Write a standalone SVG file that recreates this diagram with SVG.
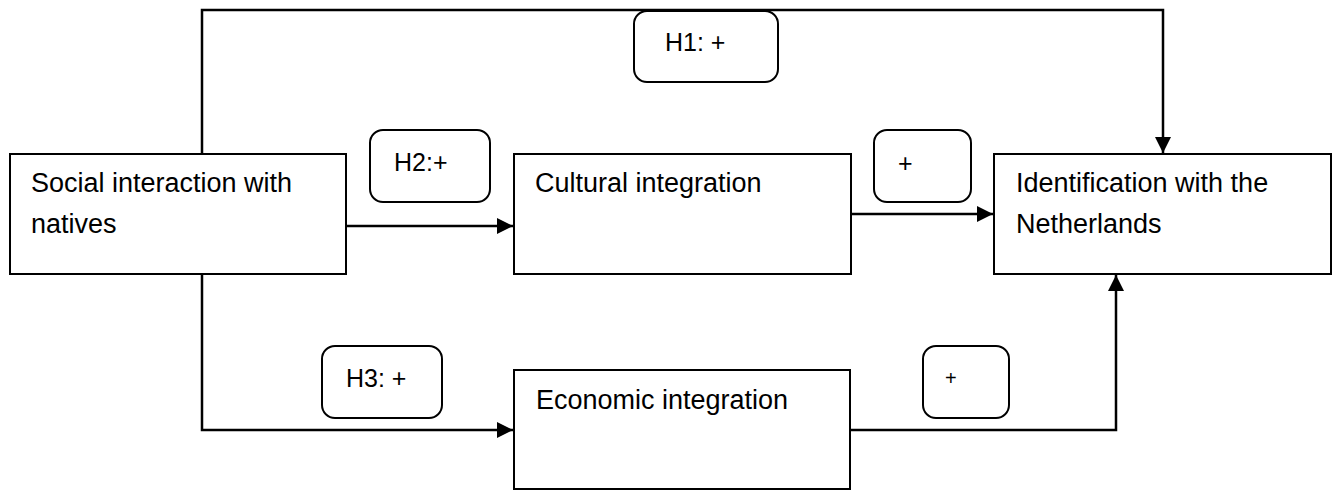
<svg xmlns="http://www.w3.org/2000/svg" width="1340" height="492" viewBox="0 0 1340 492">
<style>
.node{fill:#fff;stroke:#000;stroke-width:2}
.lab{fill:#fff;stroke:#000;stroke-width:2}
.t{font-family:"Liberation Sans",Arial,sans-serif;font-size:27px;fill:#000}
.l{font-family:"Liberation Sans",Arial,sans-serif;font-size:25px;fill:#000}
.s{font-family:"Liberation Sans",Arial,sans-serif;font-size:20px;fill:#000}
.c{fill:none;stroke:#000;stroke-width:2.5}
</style>
<defs>
<marker id="ah" markerUnits="userSpaceOnUse" markerWidth="16" markerHeight="16" viewBox="0 0 16 16" refX="16" refY="8" orient="auto">
<path d="M0,0 L16,8 L0,16 Z" fill="#000"/>
</marker>
</defs>
<rect width="1340" height="492" fill="#fff"/>
<g id="connectors">
<path class="c" d="M202,154 V10 H1163 V153" marker-end="url(#ah)"/>
<path class="c" d="M346,226 H513" marker-end="url(#ah)"/>
<path class="c" d="M851,214 H993" marker-end="url(#ah)"/>
<path class="c" d="M202,274 V430 H513" marker-end="url(#ah)"/>
<path class="c" d="M850,430 H1116 V275" marker-end="url(#ah)"/>
</g>
<g id="node-social">
<rect class="node" x="10" y="154" width="336" height="120"/>
<text class="t" x="31" y="192">Social interaction with</text>
<text class="t" x="31" y="233">natives</text>
</g>
<g id="node-cultural">
<rect class="node" x="514" y="154" width="337" height="120"/>
<text class="t" x="535" y="192">Cultural integration</text>
</g>
<g id="node-identification">
<rect class="node" x="994" y="154" width="337" height="120"/>
<text class="t" x="1016" y="192">Identification with the</text>
<text class="t" x="1016" y="233">Netherlands</text>
</g>
<g id="node-economic">
<rect class="node" x="514" y="370" width="336" height="119"/>
<text class="t" x="536" y="409">Economic integration</text>
</g>
<g id="label-h1">
<rect class="lab" x="634" y="11" width="144" height="71" rx="13"/>
<text class="l" x="665" y="51">H1: +</text>
</g>
<g id="label-h2">
<rect class="lab" x="370" y="130" width="120" height="72" rx="13"/>
<text class="l" x="394" y="171">H2:+</text>
</g>
<g id="label-plus1">
<rect class="lab" x="874" y="130" width="97" height="72" rx="13"/>
<text class="l" x="898" y="172">+</text>
</g>
<g id="label-h3">
<rect class="lab" x="322" y="346" width="120" height="72" rx="13"/>
<text class="l" x="346" y="387">H3: +</text>
</g>
<g id="label-plus2">
<rect class="lab" x="923" y="346" width="86" height="72" rx="13"/>
<text class="s" x="945" y="385">+</text>
</g>
</svg>
